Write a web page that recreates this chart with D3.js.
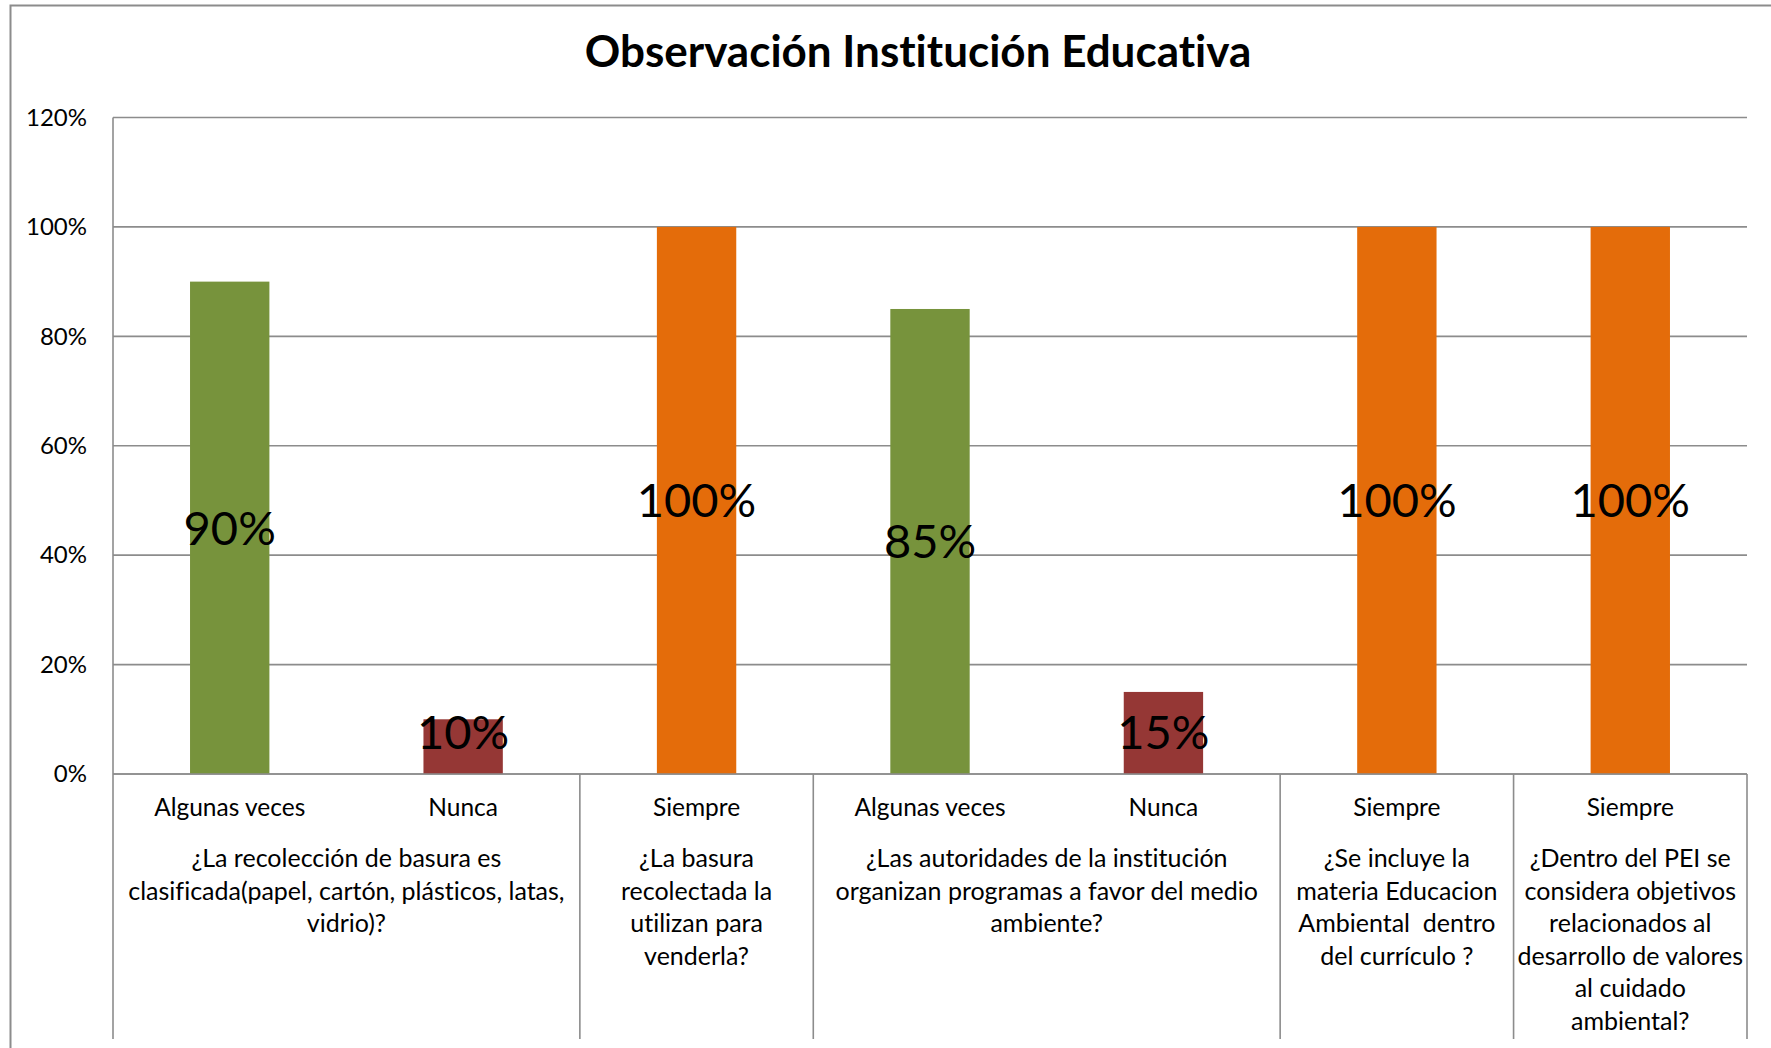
<!DOCTYPE html>
<html>
<head>
<meta charset="utf-8">
<script src="https://cdn.jsdelivr.net/npm/d3@7"></script>
<style>
  html, body { margin: 0; padding: 0; background: #fff; }
  svg { display: block; font-family: "Lato", "Open Sans", sans-serif; }
  text { white-space: pre; font-variant-ligatures: none; font-feature-settings: "liga" 0, "dlig" 0; }
</style>
</head>
<body>
<svg id="chart" width="1771" height="1048"></svg>
<script>
// Response shown for each bar
const responses = ["Algunas veces", "Nunca", "Siempre", "Algunas veces", "Nunca", "Siempre", "Siempre"];
// Share of observations for each bar
const values = [0.90, 0.10, 1.00, 0.85, 0.15, 1.00, 1.00];
// Number of bars that belong to each question
const groupSizes = [2, 1, 2, 1, 1];
// Question text, one entry per line
const questions = [
  ["¿La recolección de basura es", "clasificada(papel, cartón, plásticos, latas,", "vidrio)?"],
  ["¿La basura", "recolectada la", "utilizan para", "venderla?"],
  ["¿Las autoridades de la institución", "organizan programas a favor del medio", "ambiente?"],
  ["¿Se incluye la", "materia Educacion", "Ambiental  dentro", "del currículo ?"],
  ["¿Dentro del PEI se", "considera objetivos", "relacionados al", "desarrollo de valores", "al cuidado", "ambiental?"]
];
// Y axis ticks
const yTicks = [0, 0.2, 0.4, 0.6, 0.8, 1.0, 1.2];
const chartTitle = "Observación Institución Educativa";

const svg = d3.select("#chart");
const W = 1771, H = 1048;
const plot = { left: 113, right: 1747, top: 117.5, bottom: 774 };
const gridColor = "#8c8c8c";

const color = d3.scaleOrdinal()
  .domain(["Algunas veces", "Nunca", "Siempre"])
  .range(["#77933C", "#953735", "#E46C0A"]);

const x = d3.scaleBand()
  .domain(d3.range(values.length))
  .range([plot.left, plot.right])
  .paddingInner(0.66)
  .paddingOuter(0.33);

const y = d3.scaleLinear().domain([0, 1.2]).range([plot.bottom, plot.top]);

// Chart frame
svg.append("rect")
  .attr("x", 10.5).attr("y", 5.5)
  .attr("width", W + 20).attr("height", H + 20)
  .attr("fill", "#fff").attr("stroke", gridColor).attr("stroke-width", 2);

// Title
svg.append("text")
  .attr("x", 918).attr("y", 67)
  .attr("text-anchor", "middle")
  .attr("font-weight", "bold")
  .attr("font-size", 44)
  .attr("fill", "#000")
  .text(chartTitle);

// Horizontal gridlines
svg.append("g").selectAll("line")
  .data(yTicks)
  .join("line")
  .attr("x1", plot.left).attr("x2", plot.right)
  .attr("y1", d => y(d)).attr("y2", d => y(d))
  .attr("stroke", gridColor).attr("stroke-width", 1.6);

// Y axis with percentage labels
const yAxis = d3.axisLeft(y)
  .tickValues(yTicks)
  .tickFormat(d3.format(".0%"))
  .tickSize(0)
  .tickPadding(26);
const yg = svg.append("g").attr("transform", `translate(${plot.left},0)`).call(yAxis);
yg.select(".domain").remove();
yg.selectAll("text").attr("font-size", 24).attr("font-family", "Lato, sans-serif").attr("fill", "#000");

// Bars
svg.append("g").selectAll("rect")
  .data(values)
  .join("rect")
  .attr("x", (d, i) => x(i))
  .attr("width", x.bandwidth())
  .attr("y", d => y(d))
  .attr("height", d => y(0) - y(d))
  .attr("fill", (d, i) => color(responses[i]));

// Value labels, centred in each bar and kept clear of the baseline
const labelHalf = 42;
svg.append("g").selectAll("text")
  .data(values)
  .join("text")
  .attr("x", (d, i) => x(i) + x.bandwidth() / 2)
  .attr("y", d => Math.min((y(d) + y(0)) / 2, y(0) - labelHalf))
  .attr("dy", "0.36em")
  .attr("text-anchor", "middle")
  .attr("font-size", 47)
  .attr("fill", "#000")
  .text(d => d3.format(".0%")(d));

// Axis line and lower category frame
const catBottom = 1039;
svg.append("line")
  .attr("x1", plot.left).attr("x2", plot.right)
  .attr("y1", y(0)).attr("y2", y(0))
  .attr("stroke", gridColor).attr("stroke-width", 1.6);
svg.append("line")
  .attr("x1", plot.left).attr("x2", plot.left)
  .attr("y1", plot.top).attr("y2", catBottom)
  .attr("stroke", gridColor).attr("stroke-width", 1.6);

// Group boundaries
const starts = [0];
groupSizes.forEach((n, i) => starts.push(starts[i] + n));
const step = x.step();
const groupEdge = k => plot.left + starts[k] * step;
svg.append("g").selectAll("line")
  .data(starts.slice(1))
  .join("line")
  .attr("x1", (d, i) => groupEdge(i + 1)).attr("x2", (d, i) => groupEdge(i + 1))
  .attr("y1", y(0)).attr("y2", catBottom)
  .attr("stroke", gridColor).attr("stroke-width", 1.6);

// Response labels under each bar
svg.append("g").selectAll("text")
  .data(responses)
  .join("text")
  .attr("x", (d, i) => x(i) + x.bandwidth() / 2)
  .attr("y", 816)
  .attr("text-anchor", "middle")
  .attr("font-size", 24.5)
  .attr("fill", "#000")
  .text(d => d);

// Question labels centred under each group
const qg = svg.append("g").selectAll("text")
  .data(questions)
  .join("text")
  .attr("text-anchor", "middle")
  .attr("font-size", 25)
  .attr("fill", "#000");
qg.each(function (lines, gi) {
  const cx = (groupEdge(gi) + groupEdge(gi + 1)) / 2;
  d3.select(this).selectAll("tspan")
    .data(lines)
    .join("tspan")
    .attr("x", cx)
    .attr("y", (d, li) => 867 + li * 32.5)
    .text(d => d);
});
</script>
</body>
</html>
